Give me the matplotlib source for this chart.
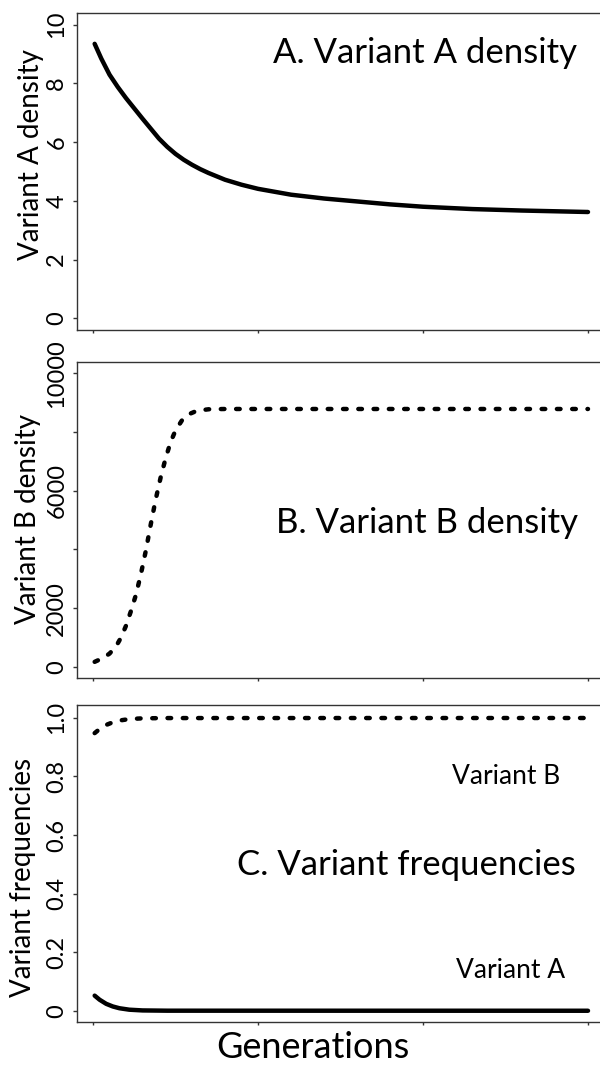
import matplotlib
matplotlib.use("Agg")
import matplotlib.pyplot as plt
from matplotlib.ticker import FixedLocator, FixedFormatter

plt.rcParams['font.family'] = ['Lato', 'DejaVu Sans']
plt.rcParams['lines.scale_dashes'] = False

# ---- data ----
gen_a = [1, 5, 10, 15, 20, 25, 30, 35, 40, 45, 50, 55, 60, 65, 70, 80, 90, 100,
         120, 140, 160, 180, 200, 230, 260, 300]
dens_a = [9.35, 8.85, 8.30, 7.88, 7.50, 7.15, 6.80, 6.46, 6.12, 5.84, 5.60, 5.40,
          5.23, 5.08, 4.95, 4.72, 4.55, 4.41, 4.21, 4.08, 3.98, 3.88, 3.80, 3.72,
          3.67, 3.62]

gen_b = [1, 6, 10, 14, 17, 20, 23, 26, 29, 32, 35, 38, 41, 44, 47, 50, 54, 58,
         63, 70, 80, 300]
dens_b = [170, 300, 450, 700, 1000, 1400, 1900, 2450, 3150, 3950, 4850, 5700,
          6450, 7100, 7650, 8050, 8400, 8600, 8720, 8770, 8780, 8780]

gen_f = [1, 4, 8, 12, 16, 22, 30, 45, 300]
freq_a = [0.052, 0.038, 0.024, 0.015, 0.009, 0.004, 0.0015, 0.0006, 0.0004]
freq_b = [0.948, 0.962, 0.976, 0.985, 0.991, 0.996, 0.9985, 0.9994, 0.9996]

x_ticks = [0, 100, 200, 300]
ticks_a = [0, 2, 4, 6, 8, 10]
labels_a = ["0", "2", "4", "6", "8", "10"]
ticks_b = [0, 2000, 4000, 6000, 8000, 10000]
labels_b = ["0", "2000", "", "6000", "", "10000"]
ticks_c = [0, 0.2, 0.4, 0.6, 0.8, 1.0]
labels_c = ["0", "0.2", "0.4", "0.6", "0.8", "1.0"]

W, H = 600, 1076
fig = plt.figure(figsize=(W / 100, H / 100), dpi=100)


def fx(x):
    return x / W


def fy(y):
    return 1 - y / H


def make_ax(top, bottom):
    ax = fig.add_axes([fx(77), fy(bottom), fx(620) - fx(77), (bottom - top) / H])
    for s in ax.spines.values():
        s.set_color('#333333')
        s.set_linewidth(1.0)
    ax.set_xlim(-9.7, (620 - 93) / 1.65)
    ax.xaxis.set_major_locator(FixedLocator(x_ticks))
    ax.set_xticklabels([])
    ax.tick_params(axis='x', direction='out', length=2.5, width=1.0, color='#333333')
    ax.tick_params(axis='y', direction='out', length=3, width=1.0, color='#333333',
                   labelsize=17, labelrotation=90, pad=4)
    return ax


def finish_y(ax, ticks, labels):
    ax.yaxis.set_major_locator(FixedLocator(ticks))
    ax.yaxis.set_major_formatter(FixedFormatter(labels))
    for lab in ax.get_yticklabels():
        lab.set_va('center')


lw = 3.2
dash = (0, (2.6, 8.4))

# Panel A
axA = make_ax(13, 330)
axA.plot(gen_a, dens_a, color='black', lw=lw, solid_capstyle='round', solid_joinstyle='round')
axA.set_ylim(-0.4, 10.4)
finish_y(axA, ticks_a, labels_a)

# Panel B
axB = make_ax(362, 678)
axB.plot(gen_b, dens_b, color='black', lw=lw, linestyle=dash, dash_capstyle='round')
axB.set_ylim(-380, 10380)
finish_y(axB, ticks_b, labels_b)

# Panel C
axC = make_ax(705, 1022)
axC.plot(gen_f, freq_b, color='black', lw=lw, linestyle=dash, dash_capstyle='round')
axC.plot(gen_f, freq_a, color='black', lw=lw, solid_capstyle='round', solid_joinstyle='round')
axC.set_ylim(-0.038, 1.044)
finish_y(axC, ticks_c, labels_c)

# y labels
fig.text(fx(31), fy(155), "Variant A density", rotation=90, ha='center', va='center', fontsize=20)
fig.text(fx(28), fy(519), "Variant B density", rotation=90, ha='center', va='center', fontsize=20)
fig.text(fx(23), fy(877), "Variant frequencies", rotation=90, ha='center', va='center', fontsize=20)

# panel titles
fig.text(fx(577), fy(63), "A. Variant A density", ha='right', va='baseline', fontsize=25)
fig.text(fx(578), fy(533), "B. Variant B density", ha='right', va='baseline', fontsize=25)
fig.text(fx(576), fy(875), "C. Variant frequencies", ha='right', va='baseline', fontsize=25)
fig.text(fx(560), fy(784), "Variant B", ha='right', va='baseline', fontsize=19)
fig.text(fx(565), fy(978), "Variant A", ha='right', va='baseline', fontsize=19)
fig.text(fx(313), fy(1058), "Generations", ha='center', va='baseline', fontsize=26)

fig.savefig("out.png", dpi=100)
